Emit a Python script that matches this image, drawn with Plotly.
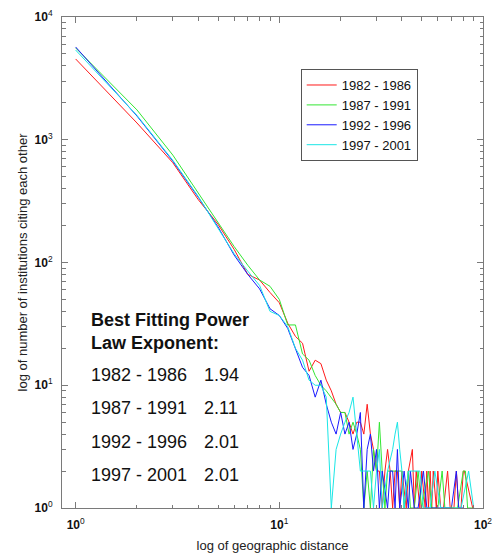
import plotly.graph_objects as go

# Institution pairs citing each other, binned by geographic distance.
# Distance bins with zero pairs are absent, so each series keeps its own distances.
periods = ["1982 - 1986", "1987 - 1991", "1992 - 1996", "1997 - 2001"]
exponents = ["1.94", "2.11", "2.01", "2.01"]
colors = ["#ff1a1a", "#33e633", "#1a1aff", "#1ae6e6"]

dist_1982 = list(range(1, 31)) + [31, 32, 33, 34, 35, 36, 37, 38, 39, 40, 42, 43, 45, 46, 47, 49, 50,
                                  52, 53, 54, 55, 56, 57, 59, 60, 62, 64, 67, 69, 72, 74, 76, 78,
                                  80, 81, 89]
counts_1982 = [4550, 1370, 650, 325, 205, 128, 80, 72, 57, 47,
               32, 25, 22, 13, 16, 15, 11, 9, 7, 6,
               6, 5, 4, 5, 5, 4, 7, 4, 3, 2,
               2, 1, 2, 3, 2, 1, 2, 2, 1, 2, 1, 2, 3, 1, 2, 1, 2,
               1, 2, 1, 2, 1, 2, 1, 2, 1, 1, 2, 1, 1, 2, 1, 1,
               2, 2, 1]

dist_1987 = list(range(1, 31)) + [31, 32, 33, 34, 36, 38, 40, 41, 43, 44, 46, 48, 50, 54, 56, 60,
                                  63, 65, 70, 75, 80, 82, 84, 90]
counts_1987 = [5600, 1750, 750, 370, 215, 135, 95, 72, 64, 50,
               31, 31, 18, 16, 12, 10, 9, 8, 7, 6,
               6, 4, 5, 4, 3, 1, 2, 1, 3, 2,
               5, 2, 1, 2, 2, 2, 2, 1, 2, 1, 1, 2, 1, 2, 1, 1,
               2, 1, 1, 1, 2, 2, 1, 1]

dist_1992 = list(range(1, 31)) + [31, 32, 34, 35, 36, 37, 38, 39, 41, 43, 44, 46, 48, 51, 53, 57,
                                  60, 63, 66, 70, 74, 76, 80]
counts_1992 = [5700, 1560, 670, 340, 195, 115, 80, 61, 42, 37,
               29, 20, 14, 12, 8, 11, 7, 5, 4, 6,
               4, 5, 3, 4, 6, 1, 3, 4, 2, 3,
               1, 2, 1, 2, 2, 1, 3, 1, 2, 1, 2, 1, 1, 2, 1, 1,
               1, 1, 1, 1, 2, 1, 1]

dist_1997 = list(range(1, 31)) + [31, 32, 34, 36, 37, 38, 39, 40, 41, 43, 44, 49, 51, 55, 58, 62,
                                  66, 72, 78, 85, 90]
counts_1997 = [5380, 1580, 680, 345, 190, 118, 85, 65, 40, 37,
               30, 20, 16, 11, 10, 10, 8, 1, 3, 4,
               5, 6, 8, 4, 2, 2, 2, 2, 1, 2,
               3, 1, 2, 3, 4, 5, 3, 2, 1, 2, 2, 2, 1, 1, 2, 1,
               1, 1, 1, 2, 1]

series = [(dist_1982, counts_1982), (dist_1987, counts_1987),
          (dist_1992, counts_1992), (dist_1997, counts_1997)]

x_major = [1, 10, 100]
x_labels = ["<b>10</b><sup>0</sup>", "<b>10</b><sup>1</sup>", "<b>10</b><sup>2</sup>"]
y_major = [1, 10, 100, 1000, 10000]
y_labels = ["<b>10</b><sup>0</sup>", "<b>10</b><sup>1</sup>", "<b>10</b><sup>2</sup>",
            "<b>10</b><sup>3</sup>", "<b>10</b><sup>4</sup>"]

fig = go.Figure()
for name, (dist, vals), col in zip(periods, series, colors):
    fig.add_trace(go.Scatter(
        x=dist, y=vals, mode="lines", name=name,
        line=dict(color=col, width=1),
    ))

axis_gray = "#7a7a7a"
font_family = "Liberation Sans, Arial, sans-serif"


def minor_vals(decades):
    return [m * 10 ** d for d in decades for m in range(2, 10)]


common_axis = dict(
    type="log", showline=True, linecolor=axis_gray, linewidth=1, mirror="ticks",
    ticks="inside", ticklen=6, tickcolor=axis_gray, tickwidth=1,
    showgrid=False, zeroline=False, ticklabeloverflow="allow",
    tickfont=dict(family=font_family, size=12, color="#111"),
)

fig.update_xaxes(
    **common_axis, range=[-0.067, 2.0], tickmode="array",
    tickvals=x_major, ticktext=x_labels, ticklabelstandoff=6,
    minor=dict(tickvals=minor_vals([0, 1]), ticks="inside", ticklen=3.5,
               tickcolor=axis_gray, showgrid=False),
    title=dict(text="log of geographic distance", standoff=9,
               font=dict(family=font_family, size=13, color="#222")),
)
fig.update_yaxes(
    **common_axis, range=[0, 4], tickmode="array",
    tickvals=y_major, ticktext=y_labels, ticklabelstandoff=6,
    minor=dict(tickvals=minor_vals([0, 1, 2, 3]), ticks="inside", ticklen=3.5,
               tickcolor=axis_gray, showgrid=False),
    title=dict(text="log of number of institutions citing each other", standoff=4,
               font=dict(family=font_family, size=13, color="#222")),
)

# Power-law exponent table
text_font = dict(family=font_family, size=18, color="#111")
annotations = [dict(
    text="<b>Best Fitting Power<br>Law Exponent:</b>", xref="paper", yref="paper",
    x=0.065, y=0.408, xanchor="left", yanchor="top", align="left", showarrow=False,
    font=text_font,
)]
row_y = [375, 408, 442, 475]
for py, label, expo in zip(row_y, periods, exponents):
    yp = (508 - py) / 491
    annotations.append(dict(text=label, xref="paper", yref="paper", x=0.065, y=yp,
                            xanchor="left", yanchor="middle", showarrow=False, font=text_font))
    annotations.append(dict(text=expo, xref="paper", yref="paper", x=(205 - 62) / 430, y=yp,
                            xanchor="left", yanchor="middle", showarrow=False, font=text_font))

fig.update_layout(
    width=496, height=558,
    margin=dict(l=62, r=4, t=17, b=50),
    paper_bgcolor="white", plot_bgcolor="white",
    showlegend=True,
    legend=dict(x=0.567, y=0.894, xanchor="left", yanchor="top",
                bgcolor="white", bordercolor="#555", borderwidth=1,
                font=dict(family=font_family, size=13, color="#111"),
                itemwidth=30, tracegroupgap=0),
    annotations=annotations,
)

fig.write_html("out.html")
